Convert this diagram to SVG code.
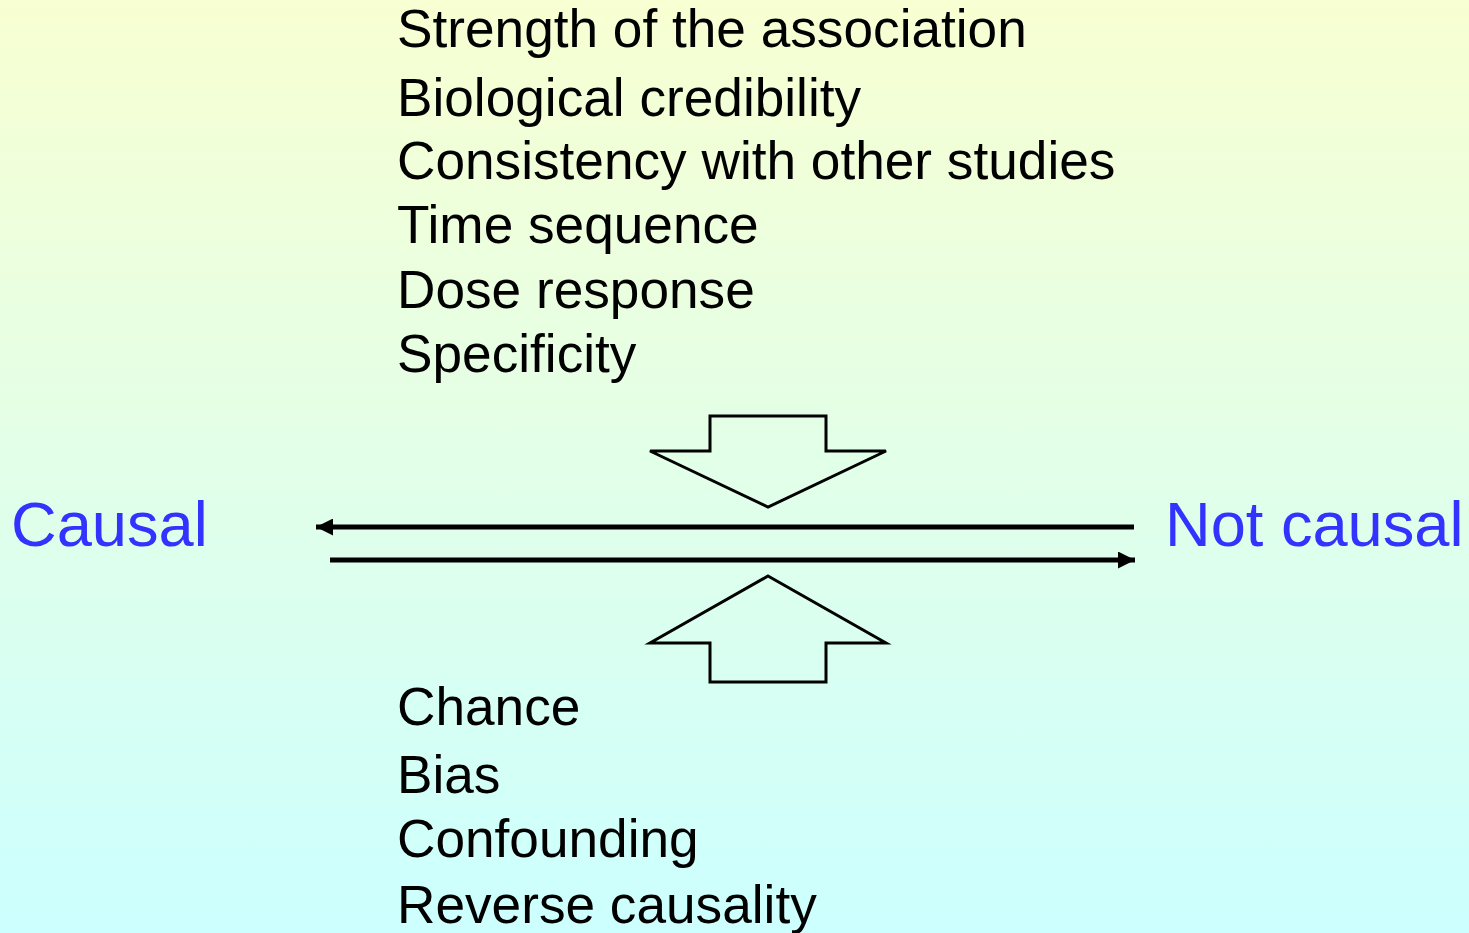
<svg xmlns="http://www.w3.org/2000/svg" width="1469" height="933" viewBox="0 0 1469 933">
  <defs>
    <linearGradient id="bg" x1="0" y1="0" x2="0" y2="1">
      <stop offset="0" stop-color="#F8FFD2"/>
      <stop offset="1" stop-color="#CCFFFF"/>
    </linearGradient>
    <marker id="ah" viewBox="0 0 10 10" refX="10" refY="5" markerWidth="3.4" markerHeight="3.4" orient="auto" markerUnits="strokeWidth">
      <path d="M0,0 L10,5 L0,10 Z" fill="#000"/>
    </marker>
  </defs>
  <style>
    .t { font-family: "Liberation Sans", Arial, sans-serif; font-size: 53.2px; fill: #000; }
    .lbl { font-family: "Liberation Sans", Arial, sans-serif; font-size: 63.2px; fill: #3333FF; }
    .blk { fill: none; stroke: #000; stroke-width: 3; stroke-linejoin: miter; }
    .line { stroke: #000; stroke-width: 5; fill: none; }
  </style>
  <rect x="0" y="0" width="1469" height="933" fill="url(#bg)"/>

  <g id="factors-for">
    <text class="t" x="397" y="47">Strength of the association</text>
    <text class="t" x="397" y="116">Biological credibility</text>
    <text class="t" x="397" y="179">Consistency with other studies</text>
    <text class="t" x="397" y="243">Time sequence</text>
    <text class="t" x="397" y="308">Dose response</text>
    <text class="t" x="397" y="372">Specificity</text>
  </g>

  <g id="factors-against">
    <text class="t" x="397" y="725">Chance</text>
    <text class="t" x="397" y="793">Bias</text>
    <text class="t" x="397" y="857">Confounding</text>
    <text class="t" x="397" y="923">Reverse causality</text>
  </g>

  <g id="causal">
    <text class="lbl" x="11" y="546">Causal</text>
  </g>
  <g id="not-causal">
    <text class="lbl" x="1165" y="546">Not causal</text>
  </g>

  <g id="arrow-down">
    <polygon class="blk" points="710,416 826,416 826,451 886,451 768,507 650,451 710,451"/>
  </g>
  <g id="arrow-up">
    <polygon class="blk" points="768,576 886,643 826,643 826,682 710,682 710,643 650,643"/>
  </g>

  <g id="connectors">
    <line class="line" x1="1134" y1="527" x2="316" y2="527" marker-end="url(#ah)"/>
    <line class="line" x1="330" y1="560" x2="1135" y2="560" marker-end="url(#ah)"/>
  </g>
</svg>
